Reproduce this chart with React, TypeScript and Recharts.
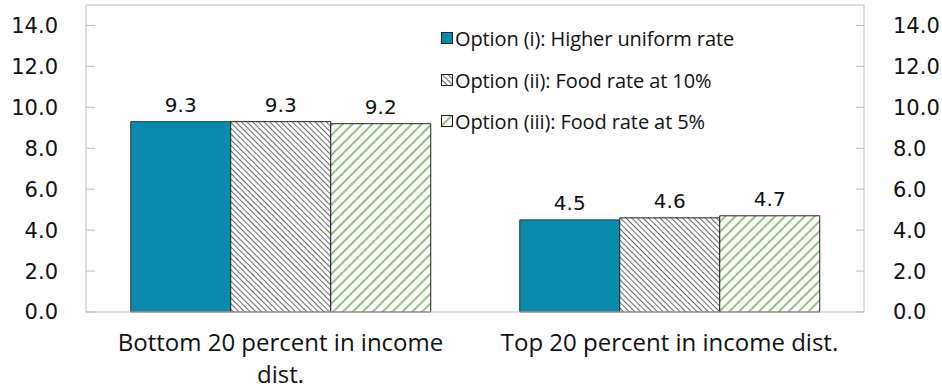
import { BarChart, Bar, XAxis, YAxis, LabelList, ReferenceLine } from 'recharts'

const categories = ['Bottom 20 percent in income dist.', 'Top 20 percent in income dist.']
const optionI = [9.3, 4.5]
const optionII = [9.3, 4.6]
const optionIII = [9.2, 4.7]
const seriesNames = [
  'Option (i): Higher uniform rate',
  'Option (ii): Food rate at 10%',
  'Option (iii): Food rate at 5%',
]
const yTicks = [0, 2, 4, 6, 8, 10, 12, 14]

const chartData = categories.map((name, i) => ({
  name,
  i: optionI[i],
  ii: optionII[i],
  iii: optionIII[i],
}))

const tickFont = 'DejaVu Sans, sans-serif'
const textFont = '"Open Sans", sans-serif'

// wrap words to a max pixel width using canvas text metrics
function wrapWords(text: string, font: string, maxWidth: number) {
  const ctx = document.createElement('canvas').getContext('2d')
  if (!ctx) return [text]
  ctx.font = font
  const lines: string[] = []
  let current = ''
  text.split(' ').forEach((word) => {
    const next = current ? current + ' ' + word : word
    if (current && ctx.measureText(next).width > maxWidth) {
      lines.push(current)
      current = word
    } else {
      current = next
    }
  })
  if (current) lines.push(current)
  return lines
}

function CategoryTick(props: any) {
  const { x, y, payload } = props
  const lines = wrapWords(String(payload.value), `24px ${textFont}`, 352)
  return (
    <text x={x} y={y + 31} textAnchor="middle" fontFamily={textFont} fontSize={24} fill="#111">
      {lines.map((line, k) => (
        <tspan key={k} x={x} dy={k === 0 ? 0 : 32}>
          {line}
        </tspan>
      ))}
    </text>
  )
}

function RightTick(props: any) {
  const { x, y, payload } = props
  return (
    <text x={x} y={y} dy="0.355em" textAnchor="start" fontFamily={tickFont} fontSize={21} fill="#111">
      {Number(payload.value).toFixed(1)}
    </text>
  )
}

function LegendBox() {
  const fills = ['#0a8aad', 'url(#hatchGray)', 'url(#hatchGreen)']
  return (
    <div style={{ position: 'absolute', left: 441, top: 18 }}>
      {seriesNames.map((name, k) => (
        <div key={name} style={{ display: 'flex', alignItems: 'center', height: 41.5 }}>
          <svg width={13} height={13} style={{ marginRight: 1 }}>
            <rect x={0.5} y={0.5} width={11} height={11} fill={fills[k]} stroke="#222" />
          </svg>
          <span style={{ fontFamily: textFont, fontSize: 20, color: '#111', whiteSpace: 'nowrap', letterSpacing: -0.1 }}>
            {name}
          </span>
        </div>
      ))}
    </div>
  )
}

export default function App() {
  return (
    <div style={{ position: 'absolute', left: 0, top: 0, width: 942, height: 389, background: '#fff' }}>
      <BarChart
        width={942}
        height={389}
        data={chartData}
        margin={{ top: 5, right: 0, left: 0, bottom: 0 }}
        barCategoryGap="11.5%"
        barGap={0}
      >
        <defs>
          <pattern id="hatchGray" patternUnits="userSpaceOnUse" width={4} height={4} patternTransform="rotate(-45)">
            <rect width={4} height={4} fill="#fff" />
            <line x1={0} y1={0} x2={0} y2={4} stroke="#444" strokeWidth={1.6} />
          </pattern>
          <pattern id="hatchGreen" patternUnits="userSpaceOnUse" width={7} height={7} patternTransform="rotate(45)">
            <rect width={7} height={7} fill="#fff" />
            <line x1={0} y1={0} x2={0} y2={7} stroke="#88c277" strokeWidth={3.8} />
          </pattern>
        </defs>
        <XAxis
          dataKey="name"
          height={77}
          axisLine={{ stroke: '#bdbdbd' }}
          tickLine={false}
          interval={0}
          tick={<CategoryTick />}
        />
        <YAxis
          yAxisId="left"
          orientation="left"
          width={86}
          domain={[0, 15]}
          ticks={yTicks}
          interval={0}
          axisLine={{ stroke: '#bdbdbd' }}
          tickLine={{ stroke: '#bdbdbd' }}
          tickSize={-9}
          tickMargin={37}
          tickFormatter={(v: number) => v.toFixed(1)}
          tick={{ fontFamily: tickFont, fontSize: 21, fill: '#111' }}
        />
        <YAxis
          yAxisId="right"
          orientation="right"
          width={78}
          domain={[0, 15]}
          ticks={yTicks}
          interval={0}
          axisLine={{ stroke: '#bdbdbd' }}
          tickLine={{ stroke: '#bdbdbd' }}
          tickSize={-8}
          tickMargin={37}
          tick={<RightTick />}
        />
        <ReferenceLine yAxisId="right" y={15} stroke="#bdbdbd" ifOverflow="extendDomain" />
        <Bar yAxisId="left" dataKey="i" name={seriesNames[0]} fill="#0a8aad" stroke="#333" strokeWidth={1} isAnimationActive={false}>
          <LabelList dataKey="i" position="top" offset={10} formatter={(v: any) => Number(v).toFixed(1)} style={{ fontFamily: tickFont, fontSize: 20, fill: '#111' }} />
        </Bar>
        <Bar yAxisId="left" dataKey="ii" name={seriesNames[1]} fill="url(#hatchGray)" stroke="#222" strokeWidth={1} isAnimationActive={false}>
          <LabelList dataKey="ii" position="top" offset={10} formatter={(v: any) => Number(v).toFixed(1)} style={{ fontFamily: tickFont, fontSize: 20, fill: '#111' }} />
        </Bar>
        <Bar yAxisId="left" dataKey="iii" name={seriesNames[2]} fill="url(#hatchGreen)" stroke="#222" strokeWidth={1} isAnimationActive={false}>
          <LabelList dataKey="iii" position="top" offset={10} formatter={(v: any) => Number(v).toFixed(1)} style={{ fontFamily: tickFont, fontSize: 20, fill: '#111' }} />
        </Bar>
      </BarChart>
      <LegendBox />
    </div>
  )
}
